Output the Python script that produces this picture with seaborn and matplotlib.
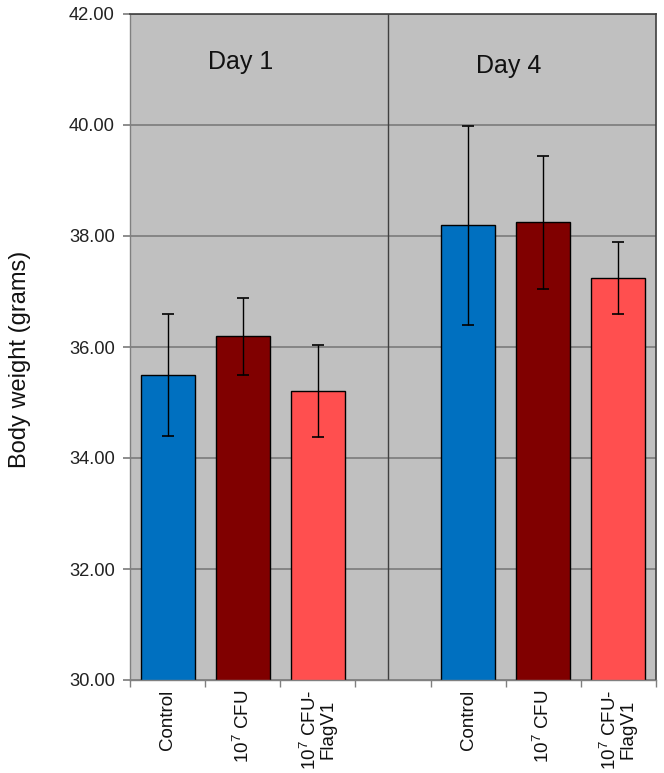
import matplotlib
matplotlib.use("Agg")
import matplotlib.pyplot as plt
import seaborn as sns
import pandas as pd
from matplotlib.ticker import FixedLocator

groups = ["Control", "10$^7$ CFU", "10$^7$ CFU-\nFlagV1"]
days = ["Day 1", "Day 4"]
day1_means = [35.50, 36.19, 35.20]
day1_sd = [1.10, 0.69, 0.83]
day4_means = [38.19, 38.25, 37.24]
day4_sd = [1.80, 1.20, 0.65]
colors = ["#0070C0", "#800000", "#FF4F4F"]

slots = ["d1_0", "d1_1", "d1_2", "gap", "d4_0", "d4_1", "d4_2"]
df = pd.DataFrame({
    "slot": ["d1_0", "d1_1", "d1_2", "d4_0", "d4_1", "d4_2"],
    "group": groups + groups,
    "weight": day1_means + day4_means,
    "sd": day1_sd + day4_sd,
})

sns.set_theme(style="white")
plt.rcParams['font.family'] = ['Liberation Sans', 'DejaVu Sans']
plt.rcParams['mathtext.fontset'] = 'custom'
plt.rcParams['mathtext.rm'] = 'Liberation Sans'
plt.rcParams['mathtext.it'] = 'Liberation Sans'

fig = plt.figure(figsize=(6.64, 7.73), dpi=100)
ax = fig.add_axes([130/664, 1-680/773, 526/664, 666/773])
ax.set_facecolor("#C0C0C0")

sns.barplot(data=df, x="slot", y="weight", hue="group", order=slots,
            hue_order=groups, palette=colors, saturation=1, dodge=False, width=0.72,
            edgecolor="black", linewidth=1.0, errorbar=None, legend=False, ax=ax)

pos = [slots.index(s) for s in df["slot"]]
ax.errorbar(pos, df["weight"], yerr=df["sd"], fmt="none", ecolor="black",
            elinewidth=1.0, capsize=4, capthick=1.2, zorder=5)

ax.set_ylim(30, 42)
ax.set_xlim(-0.5, 6.5)
yt = [30, 32, 34, 36, 38, 40, 42]
ax.set_yticks(yt)
ax.set_yticklabels([f"{v:.2f}" for v in yt], fontsize=13.2, color="#222222")
ax.yaxis.grid(True, color="#808080", linewidth=1.3)
ax.set_axisbelow(True)

ax.set_xticks(range(7))
ax.set_xticklabels([groups[0], groups[1], groups[2], "", groups[0], groups[1], groups[2]],
                   rotation=90, fontsize=13.5, va="top", ha="center", linespacing=0.95,
                   color="#111111")
ax.tick_params(axis="x", which="major", length=0, pad=7)
ax.xaxis.set_minor_locator(FixedLocator([i - 0.5 for i in range(8)]))
ax.tick_params(axis="x", which="minor", length=5, color="#808080", bottom=True)
ax.tick_params(axis="y", which="major", length=5, color="#808080", left=True, pad=6)

ax.axvline(2.93, color="#404040", linewidth=1.0, zorder=1)

for sp in ["left", "bottom"]:
    ax.spines[sp].set_color("#808080")
    ax.spines[sp].set_linewidth(1.0)
for sp in ["top", "right"]:
    ax.spines[sp].set_color("#404040")
    ax.spines[sp].set_linewidth(1.2)

ax.text(0.97, 41.14, days[0], fontsize=18, ha="center", va="center", color="#111111")
ax.text(4.54, 41.06, days[1], fontsize=18, ha="center", va="center", color="#111111")

ax.set_xlabel("")
ax.set_ylabel("")
fig.text(20/664, 1-359/773, "Body weight (grams)", rotation=90, ha="center", va="center",
         fontsize=17, color="#111111")

fig.savefig("out.png", dpi=100)
